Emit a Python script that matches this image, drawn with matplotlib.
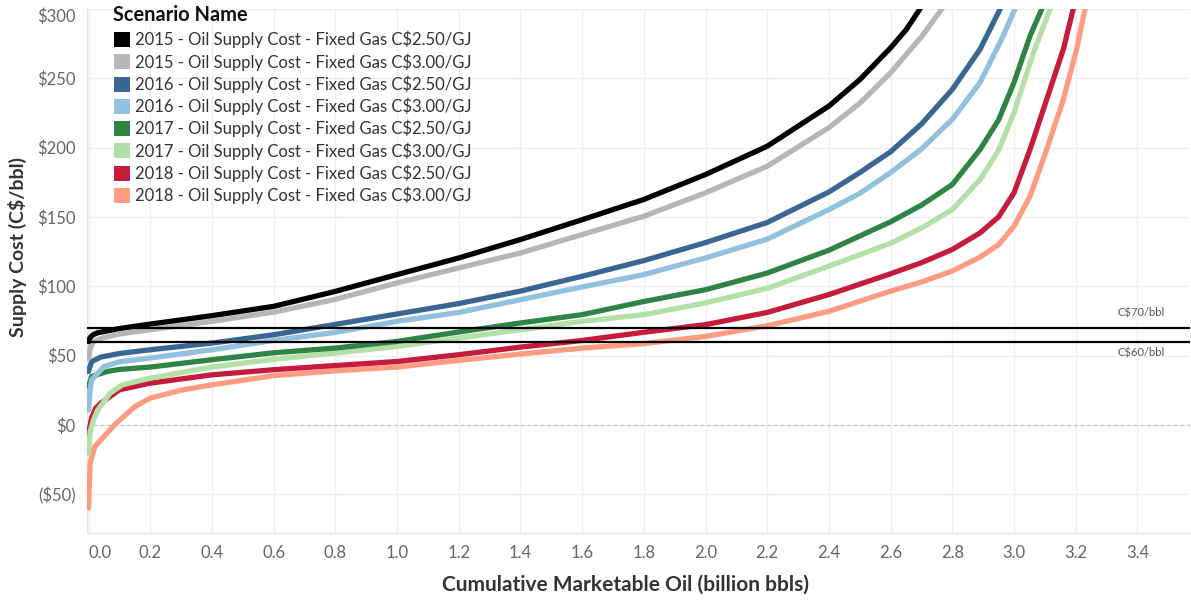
import matplotlib
matplotlib.use("Agg")
import matplotlib.pyplot as plt
from matplotlib.patches import Rectangle

plt.rcParams['font.family'] = ['Lato', 'DejaVu Sans']

# ---------------- data ----------------
series_names = [
    "2015 - Oil Supply Cost - Fixed Gas C$2.50/GJ",
    "2015 - Oil Supply Cost - Fixed Gas C$3.00/GJ",
    "2016 - Oil Supply Cost - Fixed Gas C$2.50/GJ",
    "2016 - Oil Supply Cost - Fixed Gas C$3.00/GJ",
    "2017 - Oil Supply Cost - Fixed Gas C$2.50/GJ",
    "2017 - Oil Supply Cost - Fixed Gas C$3.00/GJ",
    "2018 - Oil Supply Cost - Fixed Gas C$2.50/GJ",
    "2018 - Oil Supply Cost - Fixed Gas C$3.00/GJ",
]
series_colors = ["#000000", "#b4b7b7", "#3a6694", "#92c0df",
                 "#2f8445", "#b3e0a6", "#c51b3c", "#fe9c82"]

x_2015_250 = [0.0, 0.005, 0.015, 0.03, 0.1, 0.2, 0.4, 0.6, 0.8, 1.0, 1.2, 1.4, 1.6, 1.8, 2.0, 2.2, 2.4, 2.5, 2.6, 2.65, 2.695, 2.72]
y_2015_250 = [60, 63, 65, 66.5, 69.5, 72.7, 78.8, 85.5, 96.3, 108.4, 120.4, 133.7, 148, 162.6, 180.6, 201, 230, 249, 272, 285, 300, 310]

x_2015_300 = [0.0, 0.005, 0.016, 0.05, 0.1, 0.2, 0.4, 0.6, 0.8, 1.0, 1.2, 1.4, 1.6, 1.8, 2.0, 2.2, 2.4, 2.5, 2.6, 2.7, 2.766, 2.79]
y_2015_300 = [48, 55, 60, 63, 65.5, 68.6, 74.7, 81.3, 90.5, 102.4, 113.2, 124, 137.3, 150.5, 167.4, 186.6, 214.4, 232, 254, 280, 300, 312]

x_2016_250 = [0.0, 0.01, 0.04, 0.1, 0.2, 0.4, 0.6, 0.8, 1.0, 1.2, 1.4, 1.6, 1.8, 2.0, 2.2, 2.4, 2.5, 2.6, 2.7, 2.8, 2.89, 2.955, 2.98]
y_2016_250 = [38.5, 45.7, 48.9, 51.5, 54.2, 59, 65, 72.5, 80, 87.5, 96.5, 107.2, 118.5, 131.5, 146, 168, 182, 197, 217, 242, 271, 300, 312]

x_2016_300 = [0.0, 0.005, 0.01, 0.05, 0.1, 0.2, 0.4, 0.6, 0.8, 1.0, 1.2, 1.4, 1.6, 1.8, 2.0, 2.2, 2.4, 2.5, 2.6, 2.7, 2.8, 2.89, 2.965, 3.003, 3.02]
y_2016_300 = [10.8, 25, 32.5, 42.1, 45.5, 48.2, 54.2, 60.9, 66.7, 74.7, 81.1, 90.3, 99.5, 108.4, 120.4, 134, 155.3, 167, 182, 199, 220.4, 247, 280.6, 300, 310]

x_2017_250 = [0.0, 0.01, 0.06, 0.1, 0.2, 0.4, 0.6, 0.8, 1.0, 1.2, 1.4, 1.6, 1.8, 2.0, 2.2, 2.4, 2.6, 2.7, 2.8, 2.89, 2.95, 3.0, 3.052, 3.09, 3.11]
y_2017_250 = [27.7, 34.9, 38.5, 40, 41.7, 47, 52, 55.4, 60.2, 67, 73.5, 79.5, 89, 97.5, 109.5, 126, 146.5, 158.5, 173.4, 198.7, 220, 247, 280.6, 300, 312]

x_2017_300 = [0.0, 0.005, 0.016, 0.03, 0.07, 0.11, 0.2, 0.4, 0.6, 0.8, 1.0, 1.2, 1.4, 1.6, 1.8, 2.0, 2.2, 2.4, 2.6, 2.7, 2.8, 2.89, 2.95, 3.0, 3.063, 3.117, 3.13]
y_2017_300 = [-20.5, -5, 3.6, 10.8, 22.9, 28.9, 33.7, 41.7, 47.3, 51.8, 56.6, 62.6, 68.6, 74.7, 79.5, 88, 98.5, 114.5, 131, 142, 155.3, 177, 198, 225.2, 268.6, 300, 310]

x_2018_250 = [0.0, 0.01, 0.023, 0.04, 0.1, 0.2, 0.4, 0.6, 0.8, 1.0, 1.2, 1.4, 1.6, 1.8, 2.0, 2.2, 2.4, 2.6, 2.7, 2.8, 2.89, 2.95, 3.0, 3.052, 3.106, 3.16, 3.192, 3.21]
y_2018_250 = [-6, 5, 12, 15.7, 25.3, 30.1, 36.1, 39.8, 42.8, 45.7, 50.6, 56.1, 60.9, 66.8, 72.3, 81.1, 94, 109, 117, 126.5, 138.5, 150, 167.4, 198.7, 234.8, 271, 300, 315]

x_2018_300 = [0.0, 0.003, 0.005, 0.02, 0.05, 0.09, 0.15, 0.2, 0.3, 0.4, 0.6, 0.8, 1.0, 1.2, 1.4, 1.6, 1.8, 2.0, 2.2, 2.4, 2.6, 2.7, 2.8, 2.89, 2.95, 3.0, 3.052, 3.106, 3.16, 3.203, 3.23, 3.245]
y_2018_300 = [-60, -40, -27.7, -15.7, -8.4, 1.2, 13.2, 19.3, 25, 28.9, 35.5, 39, 41.7, 46.5, 51.1, 55.4, 58.6, 63.8, 71.5, 81.9, 96.5, 103, 111, 121, 130, 143.3, 165, 198.7, 234.8, 271, 300, 315]

series_x = [x_2015_250, x_2015_300, x_2016_250, x_2016_300,
            x_2017_250, x_2017_300, x_2018_250, x_2018_300]
series_y = [y_2015_250, y_2015_300, y_2016_250, y_2016_300,
            y_2017_250, y_2017_300, y_2018_250, y_2018_300]

ref_values = [70, 60]
ref_labels = ["C$70/bbl", "C$60/bbl"]

x_ticks = [0.0, 0.2, 0.4, 0.6, 0.8, 1.0, 1.2, 1.4, 1.6, 1.8, 2.0, 2.2, 2.4, 2.6, 2.8, 3.0, 3.2, 3.4]
x_tick_labels = ["0.0", "0.2", "0.4", "0.6", "0.8", "1.0", "1.2", "1.4", "1.6", "1.8",
                 "2.0", "2.2", "2.4", "2.6", "2.8", "3.0", "3.2", "3.4"]
y_ticks = [-50, 0, 50, 100, 150, 200, 250, 300]
y_tick_labels = ["($50)", "$0", "$50", "$100", "$150", "$200", "$250", "$300"]

# ---------------- figure ----------------
W, H = 1191, 600
fig = plt.figure(figsize=(W / 100, H / 100), dpi=100)
ax = fig.add_axes([87 / W, 1 - 533 / H, (1190 - 87) / W, (533 - 9) / H])

ax.set_xlim(-0.005, 3.5705)
ax.set_ylim(-78, 300)

ax.set_xticks(x_ticks)
ax.set_xticklabels(x_tick_labels)
ax.set_yticks(y_ticks)
ax.set_yticklabels(y_tick_labels)
ax.tick_params(axis='both', length=0, colors='#666666', labelsize=12)
ax.tick_params(axis='y', pad=8)
ax.tick_params(axis='x', pad=9)
xl = ax.get_xticklabels()
xl[0].set_ha('left')
yl = ax.get_yticklabels()
yl[-1].set_va('top')

ax.grid(True, color='#efefef', lw=1.0, zorder=0)
ax.set_axisbelow(True)
for s in ['top', 'right']:
    ax.spines[s].set_visible(False)
for s in ['left', 'bottom']:
    ax.spines[s].set_color('#e6e6e6')
    ax.spines[s].set_linewidth(1.0)

ax.axhline(0, color='#bdbdbd', lw=0.8, ls=(0, (3, 3)), zorder=1)

# draw curves (last series first so 2015 sits on top)
for i in reversed(range(len(series_names))):
    ax.plot(series_x[i], series_y[i], color=series_colors[i], lw=3.8,
            solid_capstyle='round', solid_joinstyle='round', zorder=3 + 0.1 * (8 - i))

# reference lines
for v in ref_values:
    ax.axhline(v, color='#000000', lw=1.6, zorder=5)
ax.text(3.337, 80.9, ref_labels[0], fontsize=8, color='#555555', ha='left', va='center')
ax.text(3.337, 52.0, ref_labels[1], fontsize=8, color='#555555', ha='left', va='center')

# axis titles
fig.text(17 / W, 1 - 247 / H, "Supply Cost (C$/bbl)", rotation=90, ha='center', va='center',
         fontsize=14, fontweight='bold', color='#333333')
fig.text(625 / W, 1 - 585 / H, "Cumulative Marketable Oil (billion bbls)", ha='center', va='center',
         fontsize=15, fontweight='bold', color='#333333')

# legend (manual)
fig.text(113 / W, 1 - 15 / H, "Scenario Name", ha='left', va='center',
         fontsize=14.4, fontweight='bold', color='#111111')
row0 = 39.5
dy = 22.29
for i, name in enumerate(series_names):
    yc = row0 + i * dy
    fig.add_artist(Rectangle((114 / W, 1 - (yc + 7.5) / H), 16 / W, 15 / H,
                             transform=fig.transFigure, facecolor=series_colors[i],
                             edgecolor='none'))
    fig.text(135 / W, 1 - yc / H, name, ha='left', va='center', fontsize=12, color='#333333')

fig.savefig("out.png", dpi=100)
